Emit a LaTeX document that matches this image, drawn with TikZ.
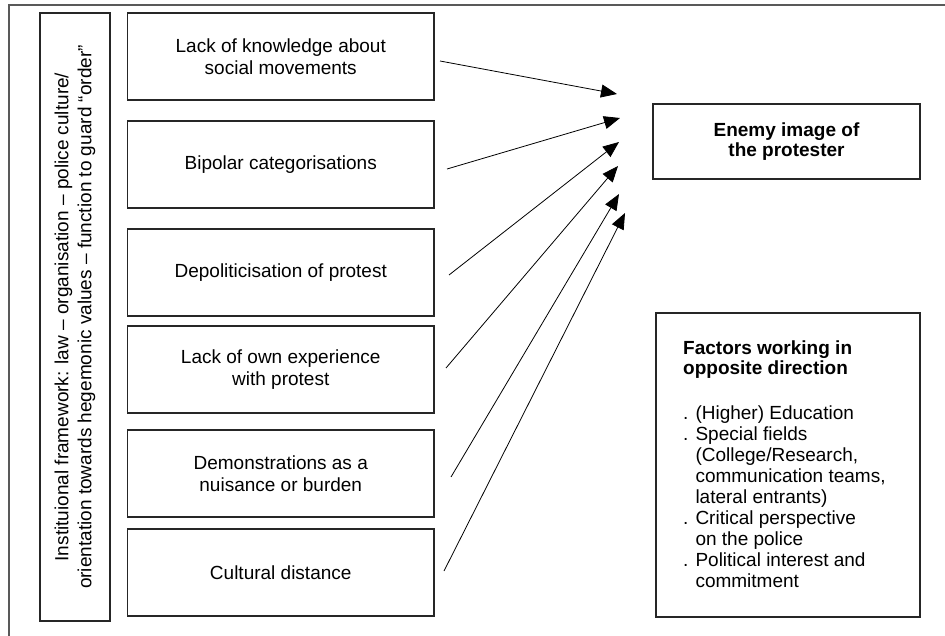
\documentclass[tikz,border=0pt]{standalone}
\usepackage{fontspec}
\setmainfont{Liberation Sans}
\usetikzlibrary{arrows.meta}
\begin{document}
\begin{tikzpicture}[x=1pt,y=-1pt,
  box/.style={draw=black!85, line width=1.1pt, inner sep=0pt, align=center,
    minimum width=306.5pt, minimum height=87pt, font=\fontsize{19}{22}\selectfont},
  frame/.style={draw=black!85, line width=1.1pt, inner sep=0pt},
  arr/.style={line width=0.8pt, -{Triangle[length=16pt,width=13pt]}},
]
\useasboundingbox (0,0) rectangle (945,636);
\draw[black!65, line width=1.5pt] (9,636) -- (9,5) -- (945,5);

% left vertical framework box
\node[frame, rotate=90, minimum width=608pt, minimum height=70pt, align=center,
  font=\fontsize{19}{23}\selectfont] (inst) at (75,317)
  {Instituional framework: law – organisation – police culture/\\
   orientation towards hegemonic values – function to guard “order”};

% factor boxes
\node[box] (b1) at (280.75,56.5)  {Lack of knowledge about\\social movements};
\node[box] (b2) at (280.75,164.5) {Bipolar categorisations};
\node[box] (b3) at (280.75,272.5) {Depoliticisation of protest};
\node[box] (b4) at (280.75,369.5) {Lack of own experience\\with protest};
\node[box] (b5) at (280.75,473.5) {Demonstrations as a\\nuisance or burden};
\node[box] (b6) at (280.75,572.5) {Cultural distance};

% enemy image
\node[box, minimum width=267pt, minimum height=75pt,
  font=\fontsize{19}{20.5}\selectfont\bfseries] (enemy) at (786.5,141.5)
  {Enemy image of\\the protester};

% factors working in opposite direction
\node[frame, minimum width=264pt, minimum height=304pt] (opp) at (788,465) {};
\node[anchor=north west, inner sep=0pt, align=left,
  font=\fontsize{19}{20}\selectfont\bfseries] (opph) at (683,341)
  {Factors working in\\opposite direction};
\node[anchor=north west, inner sep=0pt, align=left,
  font={\fontsize{19}{21}\selectfont\lineskiplimit=-20pt}] (oppl) at (683,406)
  {. (Higher) Education\\
   . Special fields\\
   \hphantom{. }(College/Research,\\
   \hphantom{. }communication teams,\\
   \hphantom{. }lateral entrants)\\
   . Critical perspective\\
   \hphantom{. }on the police\\
   . Political interest and\\
   \hphantom{. }commitment};

% arrow ends
\coordinate (s1) at (440,61);  \coordinate (t1) at (617,94);
\coordinate (s2) at (447,169); \coordinate (t2) at (620,118);
\coordinate (s3) at (449,275); \coordinate (t3) at (619,142);
\coordinate (s4) at (446,368); \coordinate (t4) at (618,166);
\coordinate (s5) at (451,477); \coordinate (t5) at (619,194);
\coordinate (s6) at (444,571); \coordinate (t6) at (625,213);

\foreach \i in {1,...,6} \draw[arr] (s\i) -- (t\i);
\end{tikzpicture}
\end{document}
